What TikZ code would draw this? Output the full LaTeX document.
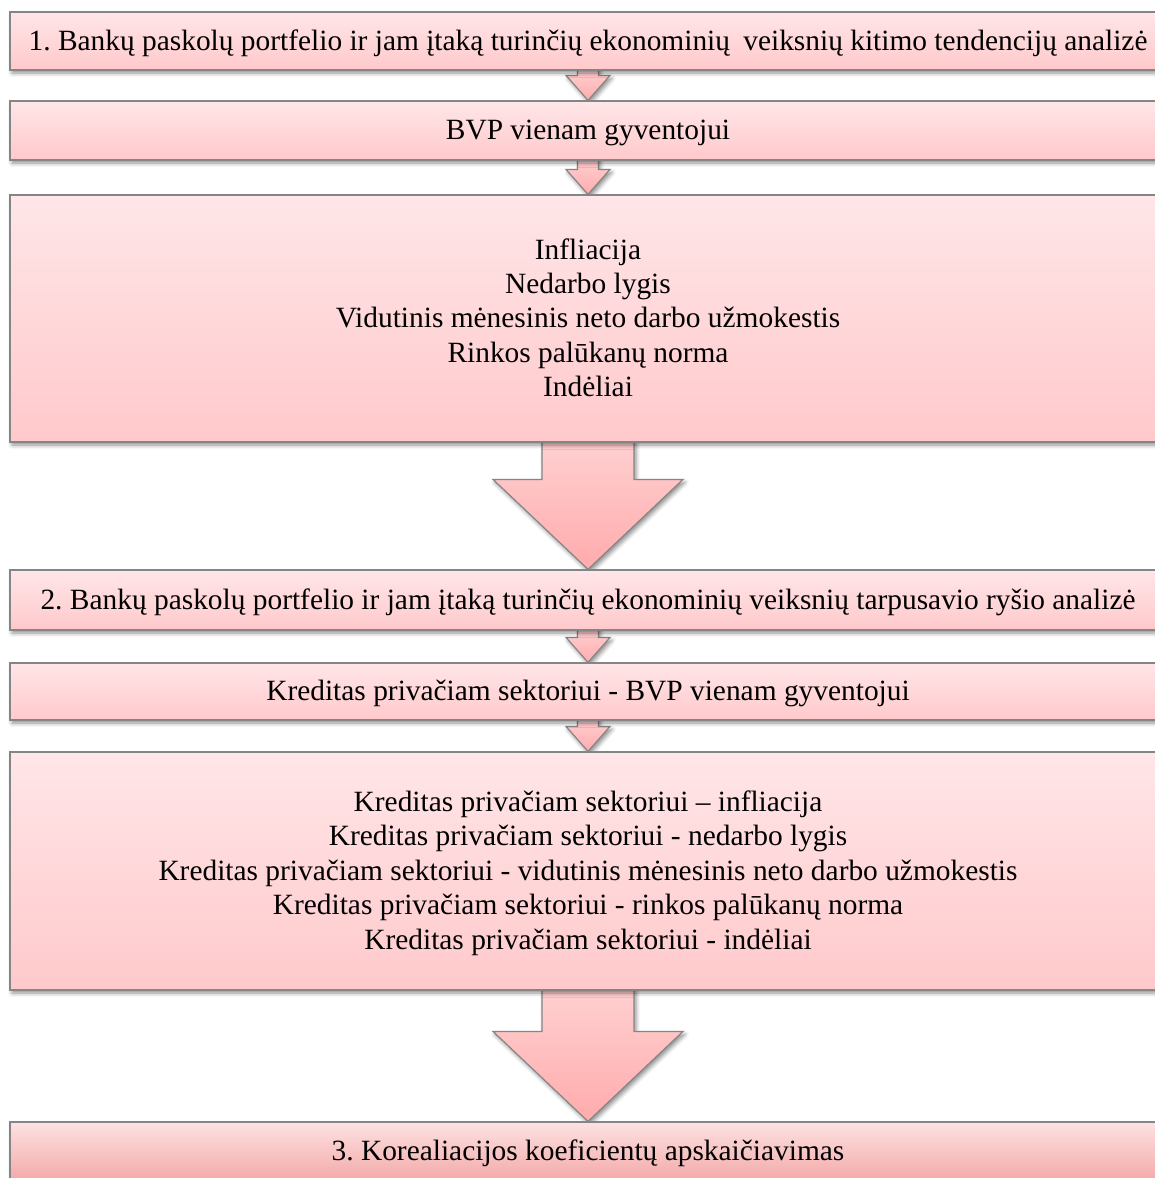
\documentclass[tikz,border=0pt]{standalone}
\usepackage{fontspec}
\setmainfont{Liberation Serif}
\usetikzlibrary{calc,shadows.blur}
\frenchspacing

\pgfdeclarelayer{back}
\pgfsetlayers{back,main}

\definecolor{edgegray}{HTML}{858585}
\definecolor{boxtop}{HTML}{FFE6E8}
\definecolor{boxbot}{HTML}{FFC9CB}
\definecolor{lasttop}{HTML}{FDE2E2}
\definecolor{lastbot}{HTML}{F4A9A9}
\definecolor{arrtop}{HTML}{FFD0D1}
\definecolor{arrbot}{HTML}{FFABAC}

% centred lines, set a little below the box's middle
\newcommand\boxlines[1]{\raisebox{-1.25pt}[\height][\depth]{\begin{tabular}{@{}c@{}}#1\end{tabular}}}

\tikzset{
  x=0.5pt, y=-0.5pt,
  softshadow/.style={blur shadow={shadow xshift=1pt, shadow yshift=-1.5pt,
      shadow blur radius=2pt, shadow opacity=45}},
  stage/.style={rectangle, draw=edgegray, line width=0.6pt,
      top color=boxtop, bottom color=boxbot, softshadow,
      minimum width=578pt, minimum height=#1, inner sep=0pt,
      text=black, font=\fontsize{14.7}{17.2}\selectfont},
  blockarrow/.style={draw=edgegray, line width=0.6pt,
      top color=arrtop, bottom color=arrbot, softshadow},
}

% broad down arrow from one box to the next:
% #1 source, #2 target, #3 shaft half-width, #4 head half-width, #5 head length
\newcommand\flowarrow[5]{%
  \path[blockarrow] let \p1=(#1.south), \p2=(#2.north) in
    (\x1-#3,\y1+1pt) -- (\x1+#3,\y1+1pt) -- (\x1+#3,\y2+#5) -- (\x1+#4,\y2+#5)
    -- (\x1,\y2) -- (\x1-#4,\y2+#5) -- (\x1-#3,\y2+#5) -- cycle;}

\begin{document}
\begin{tikzpicture}
\useasboundingbox (0,0) rectangle (1155,1178);
\begin{pgfonlayer}{back}
  \fill[white] (0,0) rectangle (1155,1178);
\end{pgfonlayer}
% off-page shadowed dot, so the shadow fading is set up before the boxes
\path[softshadow, fill=white] (1400,1400) rectangle (1402,1402);

\node[stage=29pt] (b1) at (588,41)
  {\boxlines{1. Bankų paskolų portfelio ir jam įtaką turinčių ekonominių\hspace{0.45em}veiksnių kitimo tendencijų analizė}};
\node[stage=29.5pt] (b2) at (588,130.5) {\boxlines{BVP vienam gyventojui}};
\node[stage=123.5pt] (b3) at (588,318.5)
  {\boxlines{Infliacija\\ Nedarbo lygis\\ Vidutinis mėnesinis neto darbo užmokestis\\
   Rinkos palūkanų norma\\ Indėliai}};
\node[stage=30pt] (b4) at (588,600)
  {\boxlines{2. Bankų paskolų portfelio ir jam įtaką turinčių ekonominių veiksnių tarpusavio ryšio analizė}};
\node[stage=28.5pt] (b5) at (588,691.5) {\boxlines{Kreditas privačiam sektoriui - BVP vienam gyventojui}};
\node[stage=119pt] (b6) at (588,871)
  {\boxlines{Kreditas privačiam sektoriui – infliacija\\
   Kreditas privačiam sektoriui - nedarbo lygis\\
   Kreditas privačiam sektoriui - vidutinis mėnesinis neto darbo užmokestis\\
   Kreditas privačiam sektoriui - rinkos palūkanų norma\\
   Kreditas privačiam sektoriui - indėliai}};
\node[stage=29pt, top color=lasttop, bottom color=lastbot] (b7) at (588,1151)
  {\boxlines{3. Korealiacijos koeficientų apskaičiavimas}};

\begin{pgfonlayer}{back}
  \flowarrow{b1}{b2}{5.25pt}{11pt}{12.5pt}
  \flowarrow{b2}{b3}{5.25pt}{11pt}{12.5pt}
  \flowarrow{b3}{b4}{23pt}{47.5pt}{45pt}
  \flowarrow{b4}{b5}{5.25pt}{11pt}{12.5pt}
  \flowarrow{b5}{b6}{5.25pt}{11pt}{12.5pt}
  \flowarrow{b6}{b7}{23pt}{47.5pt}{45pt}
\end{pgfonlayer}
\end{tikzpicture}
\end{document}
